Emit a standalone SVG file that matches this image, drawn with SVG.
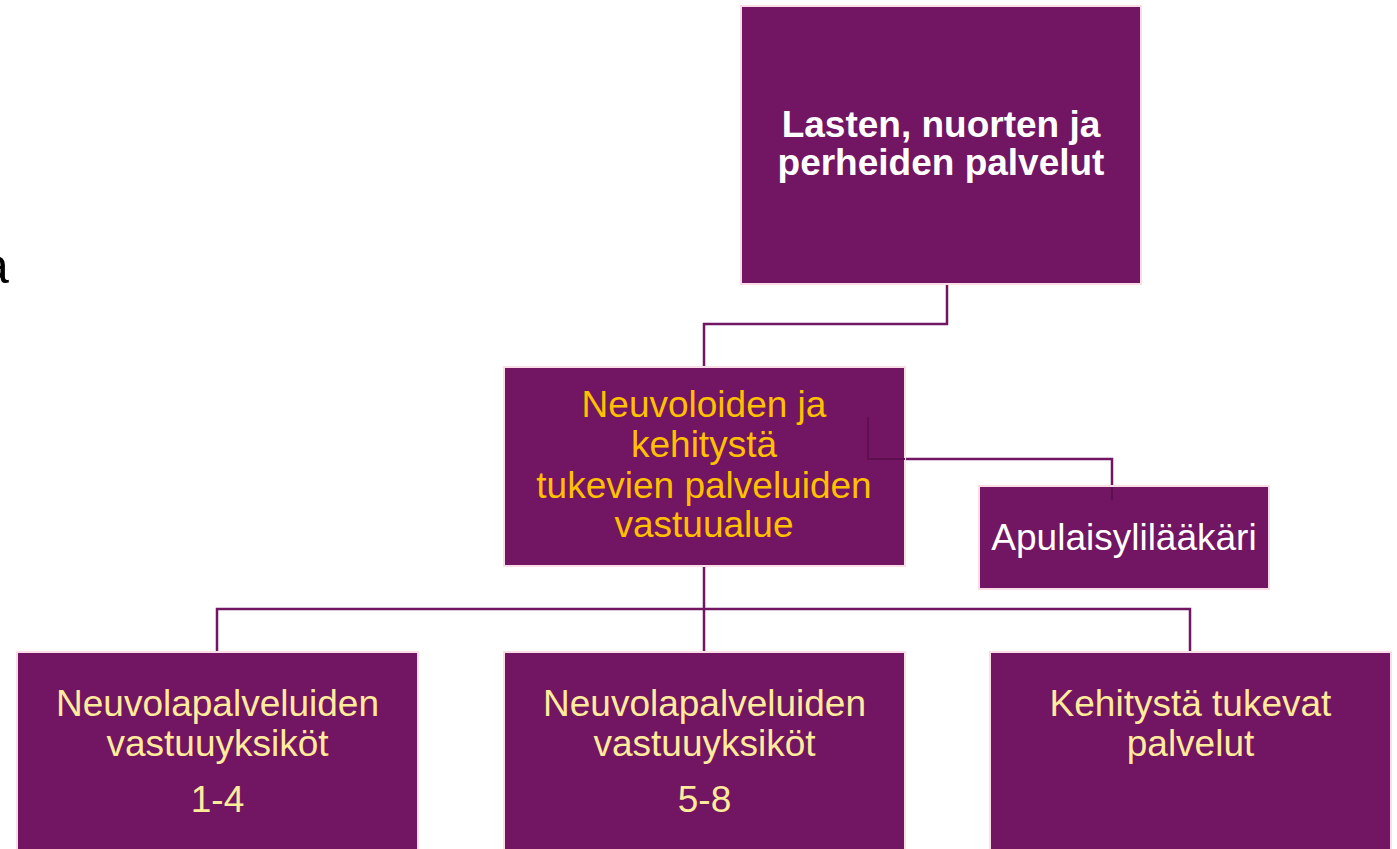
<svg xmlns="http://www.w3.org/2000/svg" width="1397" height="849" viewBox="0 0 1397 849">
<style>
.box{fill:#721562;stroke:#FBDDE8;stroke-width:2}
.t{font-family:"Liberation Sans",Arial,sans-serif;font-size:37px;text-anchor:middle}
.a{font-family:"Liberation Sans",Arial,sans-serif;font-size:50px;fill:#000000}
.w{fill:#ffffff}
.o{fill:#FFC000}
.y{fill:#FFEB9C}
.c{fill:none;stroke:#721562;stroke-width:2.5}
.ci{fill:none;stroke:#5E0F50;stroke-width:2}
</style>
<rect width="1397" height="849" fill="#ffffff"/>
<text class="a" x="-19" y="283">a</text>
<g id="connectors">
<path class="c" d="M947,284 V324 H704 V367"/>
<path class="c" d="M217,652 V609 H1190 V652"/>
<path class="c" d="M704,566 V652"/>
<path class="c" d="M905,459 H1112 V486"/>
</g>
<g id="n-top">
<rect class="box" x="741" y="6" width="400" height="278"/>
<text class="t w" font-weight="bold" x="941" y="137">Lasten, nuorten ja</text>
<text class="t w" font-weight="bold" x="941" y="175">perheiden palvelut</text>
</g>
<g id="n-mid">
<rect class="box" x="504" y="367" width="401" height="199"/>
<text class="t o" x="704" y="417">Neuvoloiden ja</text>
<text class="t o" x="704" y="457">kehitystä</text>
<text class="t o" x="704" y="498">tukevien palveluiden</text>
<text class="t o" x="704" y="537">vastuualue</text>
</g>
<g id="n-apu">
<rect class="box" x="979" y="486" width="290" height="103"/>
<text class="t w" x="1124" y="550">Apulaisylilääkäri</text>
</g>
<g id="n-b1">
<rect class="box" x="17" y="652" width="401" height="210"/>
<text class="t y" x="217.5" y="716">Neuvolapalveluiden</text>
<text class="t y" x="217.5" y="756">vastuuyksiköt</text>
<text class="t y" x="217.5" y="812">1-4</text>
</g>
<g id="n-b2">
<rect class="box" x="504" y="652" width="401" height="210"/>
<text class="t y" x="704.5" y="716">Neuvolapalveluiden</text>
<text class="t y" x="704.5" y="756">vastuuyksiköt</text>
<text class="t y" x="704.5" y="812">5-8</text>
</g>
<g id="n-b3">
<rect class="box" x="990" y="652" width="401" height="210"/>
<text class="t y" x="1190.5" y="716">Kehitystä tukevat</text>
<text class="t y" x="1190.5" y="756">palvelut</text>
</g>
<g id="inner-lines">
<path class="ci" d="M868,417 V459 H905"/>
<path class="ci" d="M1112,487 V500"/>
</g>
</svg>
